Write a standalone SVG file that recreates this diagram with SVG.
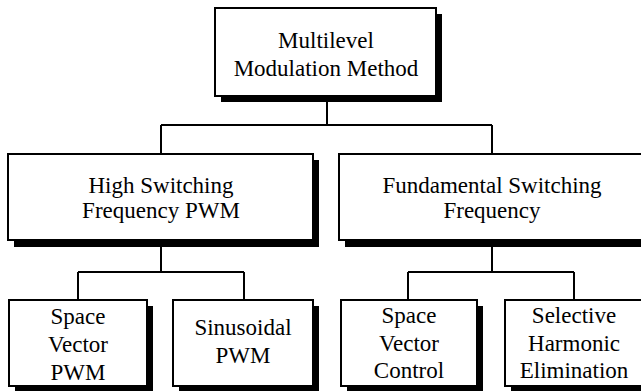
<svg xmlns="http://www.w3.org/2000/svg" width="641" height="391" viewBox="0 0 641 391" font-family="Liberation Serif, Times New Roman, serif">
<style>
.sh{fill:#000}
.bx{fill:#fff;stroke:#000;stroke-width:2}
.t{font-size:23px;fill:#000;text-anchor:middle}
.c{stroke:#000;stroke-width:2;fill:none}
</style>
<rect width="641" height="391" fill="#fff"/>
<g id="connectors">
<path class="c" d="M327 96V125M161 125H492M161 125V154M492 125V154"/>
<path class="c" d="M161 240V272M78 272H244M78 272V300M244 272V300"/>
<path class="c" d="M492 240V272M408 272H574M408 272V300M574 272V300"/>
</g>
<g id="root">
<rect class="sh" x="221" y="14" width="221" height="88"/>
<rect class="bx" x="215" y="8" width="221" height="88"/>
<text class="t" x="326" y="48" font-family="Liberation Serif">Multilevel</text>
<text class="t" x="326" y="76" font-family="Liberation Serif">Modulation Method</text>
</g>
<g id="high">
<rect class="sh" x="14" y="160" width="305" height="87"/>
<rect class="bx" x="8" y="154" width="305" height="86"/>
<text class="t" x="161" y="193" font-family="Liberation Serif">High Switching</text>
<text class="t" x="161" y="218" font-family="Liberation Serif">Frequency PWM</text>
</g>
<g id="fund">
<rect class="sh" x="345" y="160" width="310" height="87"/>
<rect class="bx" x="339" y="154" width="310" height="86"/>
<text class="t" x="492" y="193" font-family="Liberation Serif">Fundamental Switching</text>
<text class="t" x="492" y="218" font-family="Liberation Serif">Frequency</text>
</g>
<g id="svpwm">
<rect class="sh" x="15" y="306" width="138" height="86"/>
<rect class="bx" x="9" y="300" width="138" height="86"/>
<text class="t" x="78" y="324" font-family="Liberation Serif">Space</text>
<text class="t" x="78" y="352" font-family="Liberation Serif">Vector</text>
<text class="t" x="78" y="380" font-family="Liberation Serif">PWM</text>
</g>
<g id="spwm">
<rect class="sh" x="179" y="306" width="140" height="86"/>
<rect class="bx" x="173" y="300" width="140" height="86"/>
<text class="t" x="243" y="335" font-family="Liberation Serif">Sinusoidal</text>
<text class="t" x="243" y="363" font-family="Liberation Serif">PWM</text>
</g>
<g id="svc">
<rect class="sh" x="347" y="306" width="136" height="86"/>
<rect class="bx" x="341" y="300" width="136" height="86"/>
<text class="t" x="409" y="323" font-family="Liberation Serif">Space</text>
<text class="t" x="409" y="351" font-family="Liberation Serif">Vector</text>
<text class="t" x="409" y="378" font-family="Liberation Serif">Control</text>
</g>
<g id="she">
<rect class="sh" x="511" y="306" width="140" height="86"/>
<rect class="bx" x="505" y="300" width="140" height="86"/>
<text class="t" x="574" y="323" font-family="Liberation Serif">Selective</text>
<text class="t" x="574" y="351" font-family="Liberation Serif">Harmonic</text>
<text class="t" x="574" y="378" font-family="Liberation Serif">Elimination</text>
</g>
</svg>
